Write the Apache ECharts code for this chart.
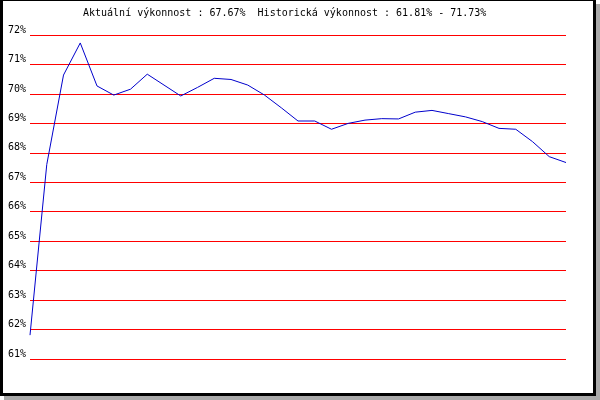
<!DOCTYPE html>
<html>
<head>
<meta charset="utf-8">
<script src="https://cdn.jsdelivr.net/npm/echarts@6/dist/echarts.min.js"></script>
<style>
  html, body { margin: 0; padding: 0; background: #fff; }
  #shadow { position: absolute; left: 4px; top: 4px; width: 596px; height: 396px; background: #a9a9a9; }
  #frame { position: absolute; left: 0; top: 0; width: 590px; height: 392px; background: #fff;
           border-style: solid; border-color: #000; border-width: 1px 3px 3px 3px; }
  #chart { position: absolute; left: 0; top: 0; width: 600px; height: 400px; }
</style>
</head>
<body>
<div id="shadow"></div>
<div id="frame"></div>
<div id="chart"></div>
<script>
const titleText = 'Aktuální výkonnost : 67.67%  Historická výkonnost : 61.81% - 71.73%';

const days = Array.from({ length: 33 }, (_, i) => String(i + 1));

const performance = [
  61.81, 67.6, 70.64, 71.73, 70.27, 69.96, 70.16, 70.67, 70.3, 69.93,
  70.22, 70.53, 70.49, 70.3, 69.96, 69.53, 69.08, 69.08, 68.8, 69.0,
  69.11, 69.16, 69.15, 69.38, 69.44, 69.33, 69.22, 69.06, 68.83, 68.8,
  68.38, 67.87, 67.67
];

const yMin = 61;
const yMax = 72;

const font = 'DejaVu Sans Mono';

const chart = echarts.init(document.getElementById('chart'));

const option = {
  backgroundColor: 'transparent',
  animation: false,
  title: {
    text: titleText,
    left: 83,
    top: 8,
    padding: 0,
    textStyle: {
      fontFamily: font,
      fontSize: 10,
      fontWeight: 'normal',
      color: '#000'
    }
  },
  grid: {
    left: 30,
    right: 34,
    top: 35,
    bottom: 41
  },
  xAxis: {
    type: 'category',
    boundaryGap: false,
    data: days,
    show: false
  },
  yAxis: {
    type: 'value',
    min: yMin,
    max: yMax,
    interval: 1,
    axisLine: { show: false },
    axisTick: { show: false },
    axisLabel: {
      formatter: '{value}%',
      fontFamily: font,
      fontSize: 10,
      color: '#000',
      margin: 4,
      verticalAlign: 'bottom',
      lineHeight: 10
    },
    splitLine: {
      lineStyle: {
        color: '#ff0000',
        width: 1
      }
    }
  },
  series: [{
    type: 'line',
    data: performance,
    symbol: 'none',
    lineStyle: {
      color: '#0000cc',
      width: 1
    }
  }]
};

chart.setOption(option);
</script>
</body>
</html>
